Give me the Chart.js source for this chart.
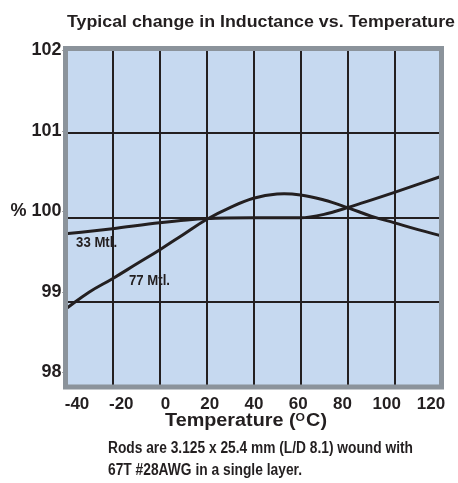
<!DOCTYPE html>
<html>
<head>
<meta charset="utf-8">
<style>
  html, body { margin: 0; padding: 0; background: #ffffff; }
  #wrap { width: 458px; height: 483px; }
</style>
<script src="https://cdn.jsdelivr.net/npm/chart.js@4.4.1/dist/chart.umd.min.js"></script>
</head>
<body>
<div id="wrap"><canvas id="chart" width="458" height="483"></canvas></div>
<script>
// Temperature tick values (deg C) and inductance tick values (%)
const xTicks = [-40, -20, 0, 20, 40, 60, 80, 100, 120];
const yTicks = [98, 99, 100, 101, 102];

// 33 material: temperature points and % inductance
const temps33 = [-40, -20, 0, 20, 40, 60, 70, 80, 100, 120];
const values33 = [99.81, 99.87, 99.94, 99.99, 100.0, 100.0, 100.04, 100.12, 100.30, 100.49];

// 77 material: temperature points and % inductance
const temps77 = [-40, -30, -20, -10, 0, 10, 20, 30, 40, 50, 60, 70, 80, 90, 100, 110, 120];
const values77 = [98.92, 99.12, 99.28, 99.45, 99.62, 99.80, 99.98, 100.12, 100.23, 100.28, 100.27, 100.21, 100.12, 100.02, 99.94, 99.86, 99.785];

// Curve names and where their labels sit (temperature, %)
const curveNames = ['33 Mtl.', '77 Mtl.'];
const labelTemps = [-35.5, -13];
const labelValues = [99.65, 99.205];

const INK = '#231f20';
const FAMILY = '"Liberation Sans", Arial, Helvetica, sans-serif';

function toPoints(xs, ys) {
  return xs.map((x, i) => ({ x: x, y: ys[i] }));
}

// Draw text squeezed/stretched horizontally to a given width
function fitText(ctx, text, x, y, font, width) {
  ctx.font = font;
  const w = ctx.measureText(text).width;
  ctx.save();
  ctx.translate(x, y);
  ctx.scale(width / w, 1);
  ctx.fillText(text, 0, 0);
  ctx.restore();
}

const framePlugin = {
  id: 'frame',
  beforeDraw(chart) {
    const { ctx, chartArea: a } = chart;
    ctx.save();
    ctx.fillStyle = '#c6d9f0';
    ctx.fillRect(a.left, a.top, a.right - a.left, a.bottom - a.top);
    ctx.restore();
  },
  afterDatasetsDraw(chart) {
    const { ctx, chartArea: a } = chart;
    ctx.save();
    ctx.strokeStyle = '#8b939b';
    ctx.lineWidth = 5;
    ctx.strokeRect(a.left, a.top, a.right - a.left, a.bottom - a.top);
    ctx.restore();
  },
  afterDraw(chart) {
    const { ctx } = chart;
    ctx.save();
    ctx.fillStyle = INK;
    ctx.textAlign = 'left';
    ctx.textBaseline = 'alphabetic';

    // Title
    fitText(ctx, 'Typical change in Inductance vs. Temperature', 67, 27, 'bold 17px ' + FAMILY, 388);

    // Axis title with superscript O
    const big = 'bold 18px ' + FAMILY;
    const small = 'bold 11px ' + FAMILY;
    ctx.font = big;
    const w1 = ctx.measureText('Temperature (').width;
    const w3 = ctx.measureText('C)').width;
    ctx.font = small;
    const w2 = ctx.measureText('O').width + 1;
    const s = 162 / (w1 + w2 + w3);
    ctx.save();
    ctx.translate(165, 426);
    ctx.scale(s, 1);
    ctx.font = big;
    ctx.fillText('Temperature (', 0, 0);
    ctx.font = small;
    ctx.fillText('O', w1, -5);
    ctx.font = big;
    ctx.fillText('C)', w1 + w2, 0);
    ctx.restore();

    // Footnote
    fitText(ctx, 'Rods are 3.125 x 25.4 mm (L/D 8.1) wound with', 108, 453, 'bold 16px ' + FAMILY, 305);
    fitText(ctx, '67T #28AWG in a single layer.', 108, 475, 'bold 16px ' + FAMILY, 194);

    // Curve labels
    const xs = chart.scales.x, ys = chart.scales.y;
    curveNames.forEach((name, i) => {
      const px = xs.getPixelForValue(labelTemps[i]);
      const py = ys.getPixelForValue(labelValues[i]);
      fitText(ctx, name, px, py, 'bold 14px ' + FAMILY, 41);
    });
    ctx.restore();
  }
};

new Chart(document.getElementById('chart'), {
  type: 'line',
  data: {
    datasets: [
      {
        label: curveNames[0],
        data: toPoints(temps33, values33),
        borderColor: INK,
        borderWidth: 3,
        pointRadius: 0,
        cubicInterpolationMode: 'monotone',
        fill: false
      },
      {
        label: curveNames[1],
        data: toPoints(temps77, values77),
        borderColor: INK,
        borderWidth: 3,
        pointRadius: 0,
        tension: 0.4,
        fill: false
      }
    ]
  },
  options: {
    responsive: false,
    devicePixelRatio: 1,
    animation: false,
    layout: { padding: { top: 48.5, right: 16.5, bottom: 0, left: 0 } },
    plugins: {
      legend: { display: false },
      tooltip: { enabled: false },
      title: { display: false }
    },
    scales: {
      x: {
        type: 'linear',
        position: 'bottom',
        min: -40,
        max: 120,
        afterBuildTicks: (scale) => { scale.ticks = xTicks.map(v => ({ value: v })); },
        afterFit: (scale) => { scale.height = 0; },
        ticks: { display: false },
        grid: { color: INK, lineWidth: 2, drawTicks: false },
        border: { display: false }
      },
      xl: {
        type: 'linear',
        position: 'bottom',
        min: -45.2,
        max: 124.75,
        afterBuildTicks: (scale) => { scale.ticks = xTicks.map(v => ({ value: v })); },
        afterFit: (scale) => { scale.height = 96; },
        ticks: {
          color: INK,
          font: { family: FAMILY, size: 17, weight: 'bold' },
          padding: -1,
          autoSkip: false,
          maxRotation: 0
        },
        grid: { display: false },
        border: { display: false }
      },
      y: {
        type: 'linear',
        position: 'left',
        min: 98,
        max: 102,
        afterBuildTicks: (scale) => { scale.ticks = yTicks.map(v => ({ value: v })); },
        afterFit: (scale) => { scale.width = 0; },
        ticks: { display: false },
        grid: { color: INK, lineWidth: 2, drawTicks: false },
        border: { display: false }
      },
      yl: {
        type: 'linear',
        position: 'left',
        min: 97.82,
        max: 102.025,
        afterBuildTicks: (scale) => { scale.ticks = yTicks.map(v => ({ value: v })); },
        afterFit: (scale) => { scale.width = 65.5; },
        ticks: {
          color: INK,
          font: { family: FAMILY, size: 18, weight: 'bold' },
          padding: 1,
          callback: (v) => (v === 100 ? '% 100' : String(v))
        },
        grid: { drawOnChartArea: false, drawTicks: true, tickLength: 3, color: '#555555', lineWidth: 1 },
        border: { display: false }
      }
    }
  },
  plugins: [framePlugin]
});
</script>
</body>
</html>
